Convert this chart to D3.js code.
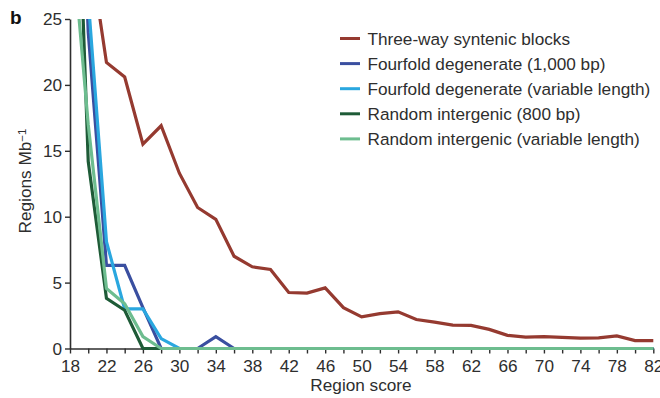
<!DOCTYPE html>
<html>
<head>
<meta charset="utf-8">
<script src="https://cdn.jsdelivr.net/npm/d3@7"></script>
<style>
  body { margin: 0; background: #fff; }
  svg { font-family: "Liberation Sans", Arial, Helvetica, sans-serif; }
</style>
</head>
<body>
<svg id="chart" width="660" height="398"></svg>
<script>
// region scores (x), every 2 from 18 to 82
var scores = [18,20,22,24,26,28,30,32,34,36,38,40,42,44,46,48,50,52,54,56,58,60,62,64,66,68,70,72,74,76,78,80,82];

var threeWay = [45,31,21.7,20.6,15.5,16.9,13.3,10.7,9.8,7.0,6.2,6.0,4.25,4.2,4.6,3.1,2.4,2.65,2.78,2.2,2.0,1.78,1.75,1.45,1.0,0.87,0.9,0.85,0.78,0.8,0.95,0.6,0.6];
var fourfold1000 = [60,24,6.3,6.3,3.1,0,0,0,0.9,0,0,0,0,0,0,0,0,0,0,0,0,0,0,0,0,0,0,0,0,0,0,0,0];
var fourfoldVar = [60,26.5,8.1,3.0,3.0,0.75,0,0,0,0,0,0,0,0,0,0,0,0,0,0,0,0,0,0,0,0,0,0,0,0,0,0,0];
var intergenic800 = [53,14.2,3.8,2.9,0,0,0,0,0,0,0,0,0,0,0,0,0,0,0,0,0,0,0,0,0,0,0,0,0,0,0,0,0];
var intergenicVar = [33,17,4.55,3.4,0.9,0,0,0,0,0,0,0,0,0,0,0,0,0,0,0,0,0,0,0,0,0,0,0,0,0,0,0,0];

var seriesNames = ["Three-way syntenic blocks", "Fourfold degenerate (1,000 bp)", "Fourfold degenerate (variable length)", "Random intergenic (800 bp)", "Random intergenic (variable length)"];
var seriesColors = ["#953a30", "#3a4fa0", "#2aa7df", "#1e5b37", "#6dbd8f"];
var seriesValues = [threeWay, fourfold1000, fourfoldVar, intergenic800, intergenicVar];

var yTicks = [0,5,10,15,20,25];
var xTicks = scores;
var xLabels = [18,22,26,30,34,38,42,46,50,54,58,62,66,70,74,78,82];

var svg = d3.select("#chart");
var textColor = "#2e2e2e";
var fontSize = "17.2px";

var x = d3.scaleLinear().domain([18, 82]).range([70, 653.3]);
var y = d3.scaleLinear().domain([0, 25]).range([348.5, 19]);

svg.append("defs").append("clipPath").attr("id", "plotClip")
  .append("rect")
  .attr("x", x(18)).attr("y", y(25))
  .attr("width", x(82) - x(18) + 4)
  .attr("height", y(0) - y(25) + 4);

// axes
var yAxis = svg.append("g")
  .attr("transform", "translate(" + x(18) + ",0)")
  .call(d3.axisLeft(y).tickValues(yTicks).tickSize(5).tickSizeOuter(0).tickPadding(3));

var xAxis = svg.append("g")
  .attr("transform", "translate(0," + y(0) + ")")
  .call(d3.axisBottom(x).tickValues(xTicks).tickSize(5).tickSizeOuter(0).tickPadding(6)
    .tickFormat(function(d) { return xLabels.indexOf(d) >= 0 ? d : ""; }));

[yAxis, xAxis].forEach(function(g) {
  g.selectAll("path.domain").attr("stroke", textColor).attr("stroke-width", 1.6);
  g.selectAll(".tick line").attr("stroke", textColor).attr("stroke-width", 1.4);
  g.selectAll(".tick text").attr("fill", textColor).style("font-size", fontSize);
});

// lines
var line = d3.line()
  .x(function(d, i) { return x(scores[i]); })
  .y(function(d) { return y(d); });

svg.append("g").attr("clip-path", "url(#plotClip)")
  .selectAll(".series")
  .data(seriesValues)
  .enter().append("path")
  .attr("class", "series")
  .attr("d", line)
  .attr("fill", "none")
  .attr("stroke", function(d, i) { return seriesColors[i]; })
  .attr("stroke-width", 3.2)
  .attr("stroke-linejoin", "miter");

// axis titles
svg.append("text")
  .attr("x", 361).attr("y", 391)
  .attr("text-anchor", "middle")
  .attr("fill", textColor)
  .style("font-size", fontSize)
  .text("Region score");

var yTitle = svg.append("text")
  .attr("transform", "translate(31,181) rotate(-90)")
  .attr("text-anchor", "middle")
  .attr("fill", textColor)
  .style("font-size", fontSize);
yTitle.append("tspan").text("Regions Mb");
yTitle.append("tspan").attr("dy", "-0.45em").style("font-size", "11.5px").text("\u22121");

// panel letter
svg.append("text")
  .attr("x", 10).attr("y", 24)
  .attr("fill", "#111")
  .style("font-size", "19px")
  .style("font-weight", "bold")
  .text("b");

// legend
var legend = svg.selectAll(".legend")
  .data(seriesNames)
  .enter().append("g")
  .attr("class", "legend")
  .attr("transform", function(d, i) { return "translate(340," + (38.5 + i * 25.1) + ")"; });

legend.append("line")
  .attr("x1", 0).attr("x2", 20)
  .attr("stroke", function(d, i) { return seriesColors[i]; })
  .attr("stroke-width", 3);

legend.append("text")
  .attr("x", 27.5).attr("dy", "0.35em")
  .attr("fill", textColor)
  .style("font-size", fontSize)
  .text(function(d) { return d; });
</script>
</body>
</html>
